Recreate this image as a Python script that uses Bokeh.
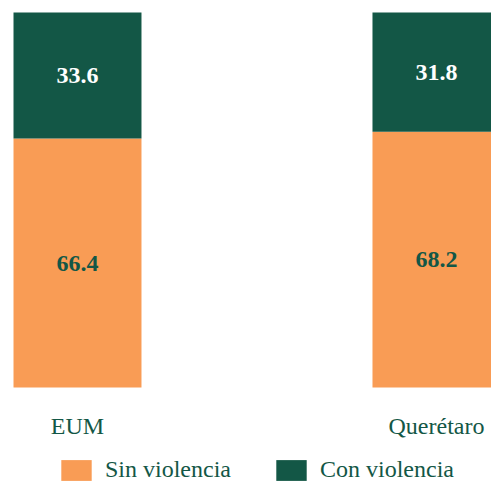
from bokeh.plotting import figure
from bokeh.models import ColumnDataSource, Range1d, Legend
from bokeh.core.properties import value
from bokeh.embed import file_html
from bokeh.resources import INLINE

categories = ["EUM", "Querétaro"]
sin_violencia = [66.4, 68.2]
con_violencia = [33.6, 31.8]

ORANGE = "#F99C55"
GREEN = "#135746"
FONT = "Liberation Serif"

PX_PER_UNIT = 3.75          # vertical scale (pixels per percentage point)
CAT_LABEL_OFFSET = 38       # px below the bar base

idx = list(range(len(categories)))
src = ColumnDataSource(dict(
    x=idx,
    sin=sin_violencia,
    con=con_violencia,
    y_sin=[s / 2 for s in sin_violencia],
    y_con=[s + c / 2 for s, c in zip(sin_violencia, con_violencia)],
    t_sin=[f"{v:.1f}" for v in sin_violencia],
    t_con=[f"{v:.1f}" for v in con_violencia],
))
cat_src = ColumnDataSource(dict(
    x=idx, y=[-CAT_LABEL_OFFSET / PX_PER_UNIT] * len(idx), t=categories))

p = figure(width=491, height=483,
           x_range=Range1d(-0.1922, 1.1533),
           y_range=Range1d(-96 / PX_PER_UNIT, 101.07),
           output_backend="svg", toolbar_location=None,
           x_axis_location=None, y_axis_location=None,
           min_border_left=8, min_border_top=8, min_border_right=0,
           min_border_bottom=0)

r = p.vbar_stack(["sin", "con"], x="x", width=0.3565, color=[ORANGE, GREEN],
                 source=src, line_color=None)

p.text(x="x", y="y_sin", text="t_sin", source=src, text_font=value(FONT),
       text_font_style="bold", text_font_size="24px", text_color=GREEN,
       text_align="center", text_baseline="middle")
p.text(x="x", y="y_con", text="t_con", source=src, text_font=value(FONT),
       text_font_style="bold", text_font_size="24px", text_color="white",
       text_align="center", text_baseline="middle")
p.text(x="x", y="y", text="t", source=cat_src, text_font=value(FONT),
       text_font_size="24px", text_color=GREEN,
       text_align="center", text_baseline="middle")

p.xgrid.visible = False
p.ygrid.visible = False
p.outline_line_color = None

legend = Legend(items=[("Sin violencia", [r[0]]), ("Con violencia", [r[1]])],
                orientation="horizontal", location=(49, 0),
                border_line_color=None, background_fill_alpha=0,
                margin=0, padding=0, spacing=41,
                glyph_width=38, glyph_height=26, label_standoff=10,
                label_text_font=FONT, label_text_font_size="24px",
                label_text_color=GREEN, label_height=26,
                label_text_baseline="middle")
p.add_layout(legend, "center")

open("out.html", "w").write(file_html(p, INLINE))
